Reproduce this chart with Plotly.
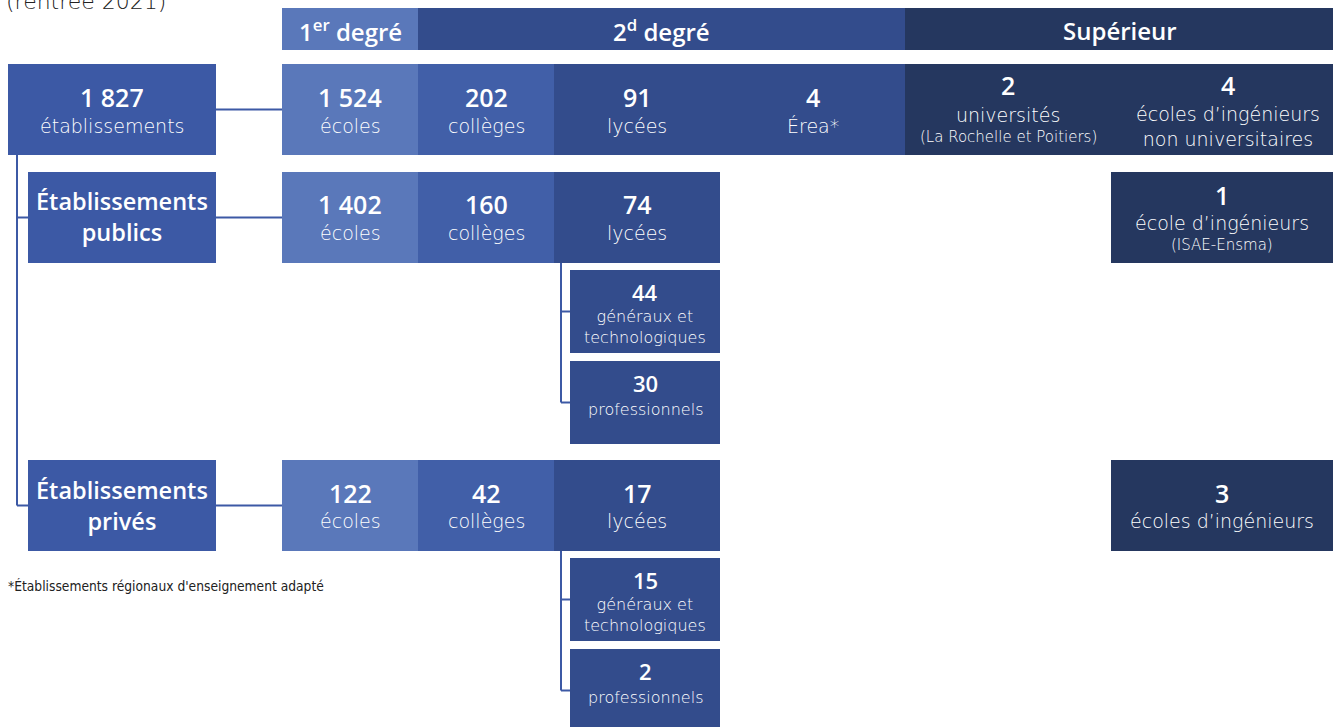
import plotly.graph_objects as go

# ---------------- data ----------------
header_labels = ["1<sup>er</sup> degré", "2<sup>d</sup> degré", "Supérieur"]

total_value = 1827
total_label = "établissements"

sector_labels = ["Établissements<br>publics", "Établissements<br>privés"]

# ensemble row
all_values = [1524, 202, 91, 4, 2, 4]
all_labels = ["écoles", "collèges", "lycées", "Érea*", "universités",
              "écoles d’ingénieurs<br>non universitaires"]
all_notes = ["", "", "", "", "(La Rochelle et Poitiers)", ""]

# public row
public_values = [1402, 160, 74, 1]
public_labels = ["écoles", "collèges", "lycées", "école d’ingénieurs"]
public_notes = ["", "", "", "(ISAE-Ensma)"]
public_lycee_values = [44, 30]

# private row
private_values = [122, 42, 17, 3]
private_labels = ["écoles", "collèges", "lycées", "écoles d’ingénieurs"]
private_lycee_values = [15, 2]

lycee_sub_labels = ["généraux et<br>technologiques", "professionnels"]

footnote = "*Établissements régionaux d'enseignement adapté"
subtitle = "(rentrée 2021)"

# ---------------- styling / layout geometry ----------------
C_ECOLE = "#5A78BA"
C_COLL = "#415FA8"
C_LYC = "#334C8C"
C_SUP = "#25375F"
C_MAIN = "#3C59A5"
LINE = "#3C59A5"
FONT_B = "Open Sans"
FONT_L = "DejaVu Sans"

cols = {"ecole": (282, 418), "coll": (418, 554), "lyc": (554, 720),
        "lyc_all": (554, 905), "sup_all": (905, 1333), "sup": (1111, 1333),
        "sub": (570, 720), "left0": (8, 216), "left": (28, 216)}
rows = {"head": (8, 50), "r1": (64, 155), "r2": (172, 263), "r3": (460, 551),
        "s1a": (270, 353), "s1b": (361, 444), "s2a": (558, 641), "s2b": (649, 732)}

shapes = []
ann = []


def fmt(v):
    return f"{v:,}".replace(",", " ")


def box(col, row, color):
    x0, x1 = cols[col] if isinstance(col, str) else col
    y0, y1 = rows[row]
    shapes.append(dict(type="rect", xref="x", yref="y", x0=x0, x1=x1, y0=y0, y1=y1,
                       fillcolor=color, line=dict(width=0), layer="below"))


def text(x, y, s, size, weight=200, color="white", xanchor="center", family=None):
    if family is None:
        family = FONT_L if weight < 400 else FONT_B
    ann.append(dict(x=x, y=y, xref="x", yref="y", text=s, showarrow=False,
                    xanchor=xanchor, yanchor="middle",
                    font=dict(family=family, size=size, color=color, weight=weight)))


def num(x, y, v, size=25):
    text(x, y, fmt(v), size, 600)


def line(x0, y0, x1, y1):
    shapes.append(dict(type="line", xref="x", yref="y", x0=x0, y0=y0, x1=x1, y1=y1,
                       line=dict(color=LINE, width=2), layer="below"))


def cx(col):
    a, b = cols[col]
    return (a + b) / 2


def cy(row):
    a, b = rows[row]
    return (a + b) / 2


# headers
box((282, 418), "head", C_ECOLE)
box((418, 905), "head", C_LYC)
box((905, 1333), "head", C_SUP)
text(350, 30, header_labels[0], 24, 600)
text(661, 30, header_labels[1], 24, 600)
text(1120, 30, header_labels[2], 24, 600)

# connectors
line(216, cy("r1"), 282, cy("r1"))
line(216, cy("r2"), 282, cy("r2"))
line(216, cy("r3"), 282, cy("r3"))
line(17, 155, 17, cy("r3"))
line(17, cy("r2"), 28, cy("r2"))
line(17, cy("r3"), 28, cy("r3"))
for top, a, b in [("r2", "s1a", "s1b"), ("r3", "s2a", "s2b")]:
    line(561, rows[top][1], 561, cy(b))
    line(561, cy(a), 570, cy(a))
    line(561, cy(b), 570, cy(b))

# row 1 : all establishments
box("left0", "r1", C_MAIN)
num(112, 97, total_value)
text(112, 126, total_label, 19)
box("ecole", "r1", C_ECOLE)
box("coll", "r1", C_COLL)
box("lyc_all", "r1", C_LYC)
box("sup_all", "r1", C_SUP)
r1_x = [cx("ecole"), cx("coll"), 637, 813]
for x, v, l in zip(r1_x, all_values[:4], all_labels[:4]):
    num(x, 97, v)
    text(x, 126, l, 19)
num(1008, 85, all_values[4])
text(1008, 115, all_labels[4], 19)
text(1008, 137, all_notes[4], 15)
num(1228, 85, all_values[5])
text(1228, 126, all_labels[5], 19)

# row 2 : public
box("left", "r2", C_MAIN)
text(122, 216, sector_labels[0], 23.5, 600)
for col, color, v, l in zip(["ecole", "coll", "lyc"], [C_ECOLE, C_COLL, C_LYC],
                            public_values[:3], public_labels[:3]):
    box(col, "r2", color)
    num(cx(col), 204, v)
    text(cx(col), 233, l, 19)
box("sup", "r2", C_SUP)
num(1222, 195, public_values[3])
text(1222, 223, public_labels[3], 19)
text(1222, 245, public_notes[3], 15)

# public lycées detail
for row, v, l in zip(["s1a", "s1b"], public_lycee_values, lycee_sub_labels):
    box("sub", row, C_LYC)
    y0 = rows[row][0]
    num(645, y0 + 22, v, 22)
    text(645, y0 + 57 if "<br>" in l else y0 + 48, l, 16)

# row 3 : private
box("left", "r3", C_MAIN)
text(122, 505, sector_labels[1], 23.5, 600)
for col, color, v, l in zip(["ecole", "coll", "lyc"], [C_ECOLE, C_COLL, C_LYC],
                            private_values[:3], private_labels[:3]):
    box(col, "r3", color)
    num(cx(col), 493, v)
    text(cx(col), 521, l, 19)
box("sup", "r3", C_SUP)
num(1222, 493, private_values[3])
text(1222, 521, private_labels[3], 19)

for row, v, l in zip(["s2a", "s2b"], private_lycee_values, lycee_sub_labels):
    box("sub", row, C_LYC)
    y0 = rows[row][0]
    num(645, y0 + 22, v, 22)
    text(645, y0 + 57 if "<br>" in l else y0 + 48, l, 16)

# footnote & subtitle
text(6, 586, footnote, 13.7, 300, "#222222", "left", "DejaVu Sans Condensed")
text(4, 1, subtitle, 22, 300, "#222222", "left")

fig = go.Figure()
fig.add_trace(go.Scatter(x=[0, 1333], y=[0, 727], mode="markers",
                         marker=dict(opacity=0), hoverinfo="skip", showlegend=False))
fig.update_layout(
    width=1333, height=727, margin=dict(l=0, r=0, t=0, b=0),
    paper_bgcolor="white", plot_bgcolor="white",
    xaxis=dict(range=[0, 1333], visible=False, fixedrange=True),
    yaxis=dict(range=[727, 0], visible=False, fixedrange=True),
    shapes=shapes, annotations=ann, showlegend=False,
)
fig.write_html("out.html", config={"displayModeBar": False},
               post_script="document.body.style.margin='0';document.body.style.overflow='hidden';")
